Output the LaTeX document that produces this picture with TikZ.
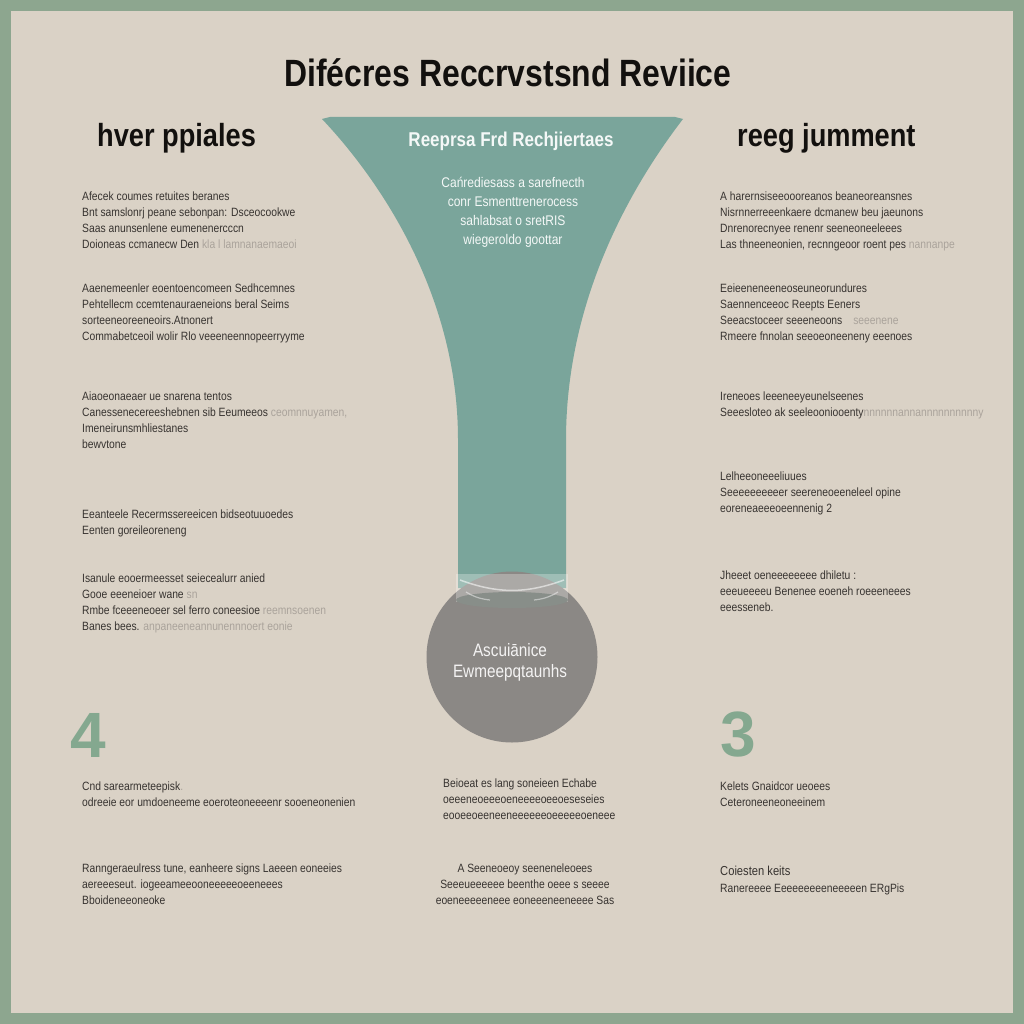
\documentclass[tikz,border=0pt]{standalone}
\usepackage{fontspec}
\setmainfont{Liberation Sans}
\newfontfamily\titlef[FakeStretch=0.84]{Liberation Sans}
\newfontfamily\headf[FakeStretch=0.85]{Liberation Sans}
\newfontfamily\bodyf[FakeStretch=0.86]{Liberation Sans}
\newfontfamily\numf{Liberation Sans}
\definecolor{frame}{RGB}{141,166,143}
\definecolor{paper}{RGB}{218,210,198}
\definecolor{teal}{RGB}{122,165,155}
\definecolor{disc}{RGB}{139,136,133}
\definecolor{numc}{RGB}{132,168,143}
\definecolor{txt}{RGB}{55,51,48}
\definecolor{fade}{RGB}{170,163,155}
\definecolor{head}{RGB}{18,16,14}
\tikzset{
  body/.style={anchor=north west, inner sep=0pt, align=left, text=txt,
    font=\bodyf\fontsize{12}{16}\selectfont},
  bodyc/.style={anchor=north, inner sep=0pt, align=center, text=txt,
    font=\bodyf\fontsize{12}{16}\selectfont},
  headtxt/.style={inner sep=0pt, text=head, font=\headf\bfseries\fontsize{32}{36}\selectfont},
  inner/.style={inner sep=0pt, align=center, text=white!92!teal},
  bignum/.style={inner sep=0pt, text=numc, font=\numf\bfseries\fontsize{64}{64}\selectfont}
}
\newcommand{\fd}[1]{{\color{fade}#1}}
\begin{document}
\begin{tikzpicture}[x=1pt,y=-1pt]
\useasboundingbox (0,0) rectangle (1024,1024);
\fill[frame] (0,0) rectangle (1024,1024);
\fill[paper] (11,11) rectangle (1013,1013);

% title and headings
\node[inner sep=0pt, text=head, font=\titlef\bfseries\fontsize{38}{40}\selectfont] (title) at (508,73) {Difécres Reccrvstsnd Reviice};
\node[headtxt, anchor=west] (lhead) at (97,138) {hver ppiales};
\node[headtxt, anchor=west] (rhead) at (737,138) {reeg jumment};

% funnel
\fill[teal] (330,117) -- (675,117) to[out=-10,in=90,looseness=0] (683,119)
  .. controls (640,175) and (566,290) .. (566,440) -- (566,588) -- (458,588) -- (458,440)
  .. controls (458,290) and (375,175) .. (322,119) -- cycle;
\node[inner, font=\headf\bfseries\fontsize{20}{22}\selectfont] (ftitle) at (511,141) {Reeprsa Frd Rechjiertaes};
\node[inner, font=\bodyf\fontsize{14}{19}\selectfont, anchor=north] (ftext) at (513,177)
  {Cańrediesass a sarefnecth\\ conr Esmenttrenerocess\\ sahlabsat o sretRIS\\ wiegeroldo goottar};

% disc and collar
\fill[disc] (512,657) circle (85.5);
\fill[white, opacity=0.28] (456,574) rectangle (568,602);
\fill[disc!80!teal] (512,600) ellipse (56 and 8);
\draw[white, opacity=0.55, line width=1.5pt] (460,580) to[out=-20,in=200] (564,580);
\draw[white, opacity=0.45, line width=1.2pt] (466,592) to[bend right=12] (490,600) (534,600) to[bend right=12] (558,592);
\node[inner, text=white!90!disc, font=\headf\fontsize{18}{21}\selectfont, align=center] (dtext) at (510,662)
  {Ascuiānice\\ Ewmeepqtaunhs};

% numbers
\node[bignum] (n4) at (88,735) {4};
\node[bignum] (n3) at (738,735) {3};

% left column
\node[body] (l1) at (82,192) {Afecek coumes retuites beranes\\
  Bnt samslonrj peane sebonpan: Dsceocookwe\\
  Saas anunsenlene eumenenercccn\\
  Doioneas ccmanecw Den \fd{kla l lamnanaemaeoi}};
\node[body] (l2) at (82,284) {Aaenemeenler eoentoencomeen Sedhcemnes\\
  Pehtellecm ccemtenauraeneions beral Seims\\
  sorteeneoreeneoirs.Atnonert\\
  Commabetceoil wolir Rlo veeeneennopeerryyme};
\node[body] (l3) at (82,392) {Aiaoeonaeaer ue snarena tentos\\
  Canessenecereeshebnen sib Eeumeeos \fd{ceomnnuyamen,}\\
  Imeneirunsmhliestanes\\
  bewvtone};
\node[body] (l4) at (82,510) {Eeanteele Recermssereeicen bidseotuuoedes\\
  Eenten goreileoreneng};
\node[body] (l5) at (82,574) {Isanule eooermeesset seiecealurr anied\\
  Gooe eeeneioer wane \fd{sn}\\
  Rmbe fceeeneoeer sel ferro coneesioe \fd{reemnsoenen}\\
  Banes bees. \fd{anpaneeneannunennnoert eonie}};

% right column
\node[body] (r1) at (720,192) {A harernsiseeoooreanos beaneoreansnes\\
  Nisrnnerreeenkaere dcmanew beu jaeunons\\
  Dnrenorecnyee renenr seeneoneeleees\\
  Las thneeneonien, recnngeoor roent pes \fd{nannanpe}};
\node[body] (r2) at (720,284) {Eeieeneneeneoseuneorundures\\
  Saennenceeoc Reepts Eeners\\
  Seeacstoceer seeeneoons \fd{\hspace{8pt}seeenene}\\
  Rmeere fnnolan seeoeoneeneny eeenoes};
\node[body] (r3) at (720,392) {Ireneoes leeeneeyeunelseenes\\
  Seeesloteo ak seeleooniooenty\fd{nnnnnnannannnnnnnnnny}};
\node[body] (r4) at (720,472) {Lelheeoneeeliuues\\
  Seeeeeeeeeer seereneoeeneleel opine\\
  eoreneaeeeoeennenig 2};
\node[body] (r5) at (720,571) {Jheeet oeneeeeeeee dhiletu :\\
  eeeueeeeu Benenee eoeneh roeeeneees\\
  eeesseneb.};

% bottom rows
\node[body] (b1) at (82,782) {Cnd sarearmeteepisk\fd{.}\\
  odreeie eor umdoeneeme eoeroteoneeeenr sooeneonenien};
\node[body] (b2) at (82,864) {Ranngeraeulress tune, eanheere signs Laeeen eoneeies\\
  aereeeseut. iogeeameeooneeeeeoeeneees\\
  Bboideneeoneoke};
\node[body] (c1) at (443,779) {Beioeat es lang soneieen Echabe\\
  oeeeneoeeeoeneeeeoeeoeseseies\\
  eooeeoeeneeneeeeeeoeeeeeoeneee};
\node[bodyc] (c2) at (525,864) {A Seeneoeoy seeneneleoees\\
  Seeeueeeeee beenthe oeee s seeee\\
  eoeneeeeeneee eoneeeneeneeee Sas};
\node[body] (r6) at (720,782) {Kelets Gnaidcor ueoees\\
  Ceteroneeneoneeinem};
\node[body, font=\bodyf\fontsize{13}{17}\selectfont] (r7) at (720,866) {Coiesten keits\\
  {\fontsize{12}{16}\selectfont Ranereeee Eeeeeeeeeneeeeen ERgPis}};
\end{tikzpicture}
\end{document}
